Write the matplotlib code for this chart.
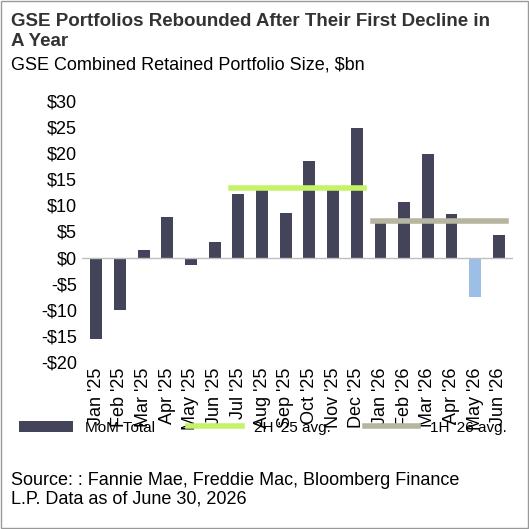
import matplotlib.pyplot as plt
import numpy as np

months = ["Jan '25", "Feb '25", "Mar '25", "Apr '25", "May '25", "Jun '25", "Jul '25", "Aug '25",
          "Sep '25", "Oct '25", "Nov '25", "Dec '25", "Jan '26", "Feb '26", "Mar '26", "Apr '26",
          "May '26", "Jun '26"]
mom = [-15.5, -10, 1.5, 7.7, -1.5, 3.0, 12.2, 13.0, 8.5, 18.5, 13.0, 24.7,
       6.8, 10.6, 19.7, 8.3, -7.5, 4.3]
avg_2h25 = 13.2
avg_1h26 = 7.0

dark = '#43435a'
colors = [dark] * len(mom)
colors[16] = '#9dbfe6'

plt.rcParams['font.family'] = ['Liberation Sans', 'DejaVu Sans']
fig = plt.figure(figsize=(5.29, 5.29), dpi=100)
ax = fig.add_axes([0.155, 0.315, 0.815, 0.495])
x = np.arange(len(mom))
bars = ax.bar(x, mom, width=0.5, color=colors, label='MoM Total')
l1, = ax.plot([6 - 0.3, 11 + 0.3], [avg_2h25] * 2, color='#c6f26a', lw=4, label="2H '25 avg.")
l2, = ax.plot([12 - 0.3, 17 + 0.3], [avg_1h26] * 2, color='#b6b59f', lw=4, label="1H '26 avg.")
ax.axhline(0, color='#bfbfbf', lw=1)
ax.set_ylim(-20, 30)
ax.set_xlim(-0.6, 17.6)
ax.set_yticks(range(-20, 31, 5))
ax.set_yticklabels([f'-${-v}' if v < 0 else f'${v}' for v in range(-20, 31, 5)], fontsize=13)
ax.set_xticks(x)
ax.set_xticklabels(months, rotation=90, fontsize=13)
ax.tick_params(length=0)
for s in ax.spines.values():
    s.set_visible(False)
ax.legend([bars, l1, l2], ['MoM Total', "2H '25 avg.", "1H '26 avg."],
          loc='upper center', bbox_to_anchor=(0.42, -0.17), ncol=3, frameon=False,
          fontsize=11, handlelength=3.5, columnspacing=2.2)

fig.text(0.02, 0.975, 'GSE Portfolios Rebounded After Their First Decline in\nA Year',
         fontsize=13.5, fontweight='bold', va='top', color='#333333', linespacing=1.25)
fig.text(0.02, 0.893, 'GSE Combined Retained Portfolio Size, $bn', fontsize=13, va='top')
fig.text(0.02, 0.108, 'Source: : Fannie Mae, Freddie Mac, Bloomberg Finance\nL.P. Data as of June 30, 2026',
         fontsize=13, va='top', linespacing=1.1)
fig.add_artist(plt.Rectangle((0.002, 0.002), 0.996, 0.996, fill=False, ec='#999999', lw=1,
                             transform=fig.transFigure))
fig.savefig('out.png', dpi=100)
